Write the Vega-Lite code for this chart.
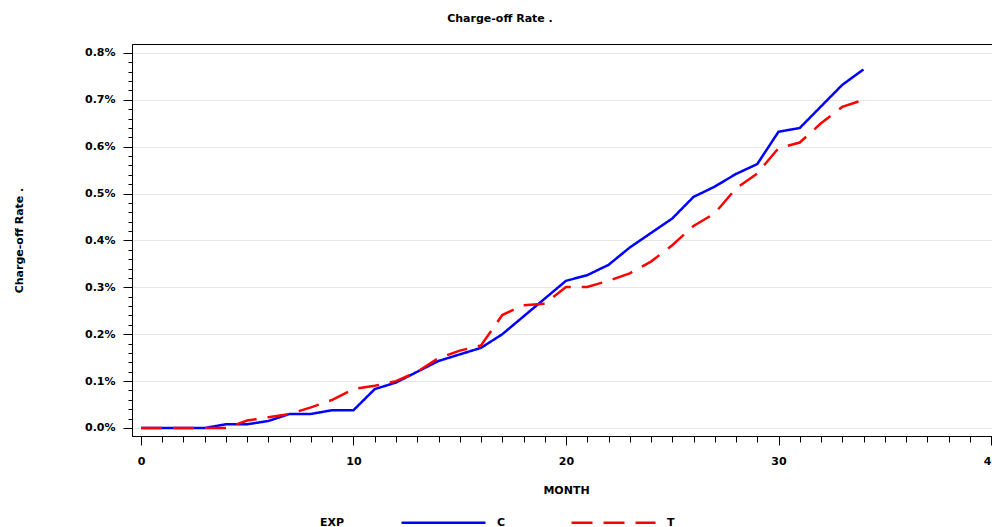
{
  "$schema": "https://vega.github.io/schema/vega-lite/v6.json",
  "width": 860,
  "height": 392,
  "autosize": {"type": "none"},
  "padding": {"left": 132, "top": 44, "right": 0, "bottom": 91},
  "background": "white",
  "config": {
    "view": {"stroke": "black", "strokeWidth": 1},
    "font": "DejaVu Sans",
    "axis": {
      "labelFont": "DejaVu Sans", "labelFontSize": 11, "labelFontWeight": "bold", "labelColor": "black",
      "titleFont": "DejaVu Sans", "titleFontSize": 11, "titleFontWeight": "bold", "titleColor": "black",
      "domainColor": "black", "tickColor": "black", "labelOverlap": false, "labelFlush": false
    }
  },
  "title": {"text": "Charge-off Rate .", "font": "DejaVu Sans", "fontSize": 11, "fontWeight": "bold", "color": "black", "anchor": "middle", "dx": -62, "offset": 20},
  "data": {"values": [
    {"MONTH": 0, "EXP": "C", "RATE": 0}, {"MONTH": 1, "EXP": "C", "RATE": 0}, {"MONTH": 2, "EXP": "C", "RATE": 0}, {"MONTH": 3, "EXP": "C", "RATE": 0},
    {"MONTH": 4, "EXP": "C", "RATE": 0.008}, {"MONTH": 5, "EXP": "C", "RATE": 0.008}, {"MONTH": 6, "EXP": "C", "RATE": 0.015}, {"MONTH": 7, "EXP": "C", "RATE": 0.030},
    {"MONTH": 8, "EXP": "C", "RATE": 0.030}, {"MONTH": 9, "EXP": "C", "RATE": 0.038}, {"MONTH": 10, "EXP": "C", "RATE": 0.038}, {"MONTH": 11, "EXP": "C", "RATE": 0.083},
    {"MONTH": 12, "EXP": "C", "RATE": 0.097}, {"MONTH": 13, "EXP": "C", "RATE": 0.120}, {"MONTH": 14, "EXP": "C", "RATE": 0.143}, {"MONTH": 15, "EXP": "C", "RATE": 0.157},
    {"MONTH": 16, "EXP": "C", "RATE": 0.171}, {"MONTH": 17, "EXP": "C", "RATE": 0.200}, {"MONTH": 18, "EXP": "C", "RATE": 0.238}, {"MONTH": 19, "EXP": "C", "RATE": 0.276},
    {"MONTH": 20, "EXP": "C", "RATE": 0.314}, {"MONTH": 21, "EXP": "C", "RATE": 0.326}, {"MONTH": 22, "EXP": "C", "RATE": 0.348}, {"MONTH": 23, "EXP": "C", "RATE": 0.385},
    {"MONTH": 24, "EXP": "C", "RATE": 0.416}, {"MONTH": 25, "EXP": "C", "RATE": 0.447}, {"MONTH": 26, "EXP": "C", "RATE": 0.493}, {"MONTH": 27, "EXP": "C", "RATE": 0.515},
    {"MONTH": 28, "EXP": "C", "RATE": 0.542}, {"MONTH": 29, "EXP": "C", "RATE": 0.563}, {"MONTH": 30, "EXP": "C", "RATE": 0.632}, {"MONTH": 31, "EXP": "C", "RATE": 0.640},
    {"MONTH": 32, "EXP": "C", "RATE": 0.686}, {"MONTH": 33, "EXP": "C", "RATE": 0.732}, {"MONTH": 34, "EXP": "C", "RATE": 0.765},
    {"MONTH": 0, "EXP": "T", "RATE": 0}, {"MONTH": 1, "EXP": "T", "RATE": 0}, {"MONTH": 2, "EXP": "T", "RATE": 0}, {"MONTH": 3, "EXP": "T", "RATE": 0},
    {"MONTH": 4, "EXP": "T", "RATE": 0}, {"MONTH": 5, "EXP": "T", "RATE": 0.016}, {"MONTH": 6, "EXP": "T", "RATE": 0.023}, {"MONTH": 7, "EXP": "T", "RATE": 0.030},
    {"MONTH": 8, "EXP": "T", "RATE": 0.044}, {"MONTH": 9, "EXP": "T", "RATE": 0.060}, {"MONTH": 10, "EXP": "T", "RATE": 0.083}, {"MONTH": 11, "EXP": "T", "RATE": 0.090},
    {"MONTH": 12, "EXP": "T", "RATE": 0.100}, {"MONTH": 13, "EXP": "T", "RATE": 0.120}, {"MONTH": 14, "EXP": "T", "RATE": 0.149}, {"MONTH": 15, "EXP": "T", "RATE": 0.165},
    {"MONTH": 16, "EXP": "T", "RATE": 0.176}, {"MONTH": 17, "EXP": "T", "RATE": 0.241}, {"MONTH": 18, "EXP": "T", "RATE": 0.262}, {"MONTH": 19, "EXP": "T", "RATE": 0.265},
    {"MONTH": 20, "EXP": "T", "RATE": 0.301}, {"MONTH": 21, "EXP": "T", "RATE": 0.301}, {"MONTH": 22, "EXP": "T", "RATE": 0.314}, {"MONTH": 23, "EXP": "T", "RATE": 0.330},
    {"MONTH": 24, "EXP": "T", "RATE": 0.355}, {"MONTH": 25, "EXP": "T", "RATE": 0.390}, {"MONTH": 26, "EXP": "T", "RATE": 0.431}, {"MONTH": 27, "EXP": "T", "RATE": 0.458},
    {"MONTH": 28, "EXP": "T", "RATE": 0.511}, {"MONTH": 29, "EXP": "T", "RATE": 0.543}, {"MONTH": 30, "EXP": "T", "RATE": 0.597}, {"MONTH": 31, "EXP": "T", "RATE": 0.609},
    {"MONTH": 32, "EXP": "T", "RATE": 0.650}, {"MONTH": 33, "EXP": "T", "RATE": 0.685}, {"MONTH": 34, "EXP": "T", "RATE": 0.700}
  ]},
  "mark": {"type": "line", "strokeWidth": 2.5},
  "encoding": {
    "x": {
      "field": "MONTH", "type": "quantitative",
      "scale": {"domain": [-0.4235, 40.047], "nice": false, "zero": false},
      "axis": {
        "values": [0,1,2,3,4,5,6,7,8,9,10,11,12,13,14,15,16,17,18,19,20,21,22,23,24,25,26,27,28,29,30,31,32,33,34,35,36,37,38,39,40],
        "labelExpr": "datum.value % 10 === 0 ? datum.label : ''",
        "tickSize": {"condition": {"test": "datum.value % 10 === 0", "value": 9}, "value": 6},
        "grid": false, "title": "MONTH", "titleX": 434, "titlePadding": 18, "labelPadding": 10
      }
    },
    "y": {
      "field": "RATE", "type": "quantitative",
      "scale": {"domain": [-0.01707, 0.8192], "nice": false, "zero": false},
      "axis": {
        "values": [0,0.02,0.04,0.06,0.08,0.1,0.12,0.14,0.16,0.18,0.2,0.22,0.24,0.26,0.28,0.3,0.32,0.34,0.36,0.38,0.4,0.42,0.44,0.46,0.48,0.5,0.52,0.54,0.56,0.58,0.6,0.62,0.64,0.66,0.68,0.7,0.72,0.74,0.76,0.78,0.8],
        "labelExpr": "abs(datum.value*10 - round(datum.value*10)) < 0.001 ? format(datum.value, '.1f') + '%' : ''",
        "tickSize": {"condition": {"test": "abs(datum.value*10 - round(datum.value*10)) < 0.001", "value": 9}, "value": 4},
        "grid": true, "gridColor": "#e6e6e6",
        "gridOpacity": {"condition": {"test": "abs(datum.value*10 - round(datum.value*10)) < 0.001", "value": 1}, "value": 0},
        "title": "Charge-off Rate .", "titlePadding": 60, "labelPadding": 8
      }
    },
    "color": {
      "field": "EXP", "type": "nominal",
      "scale": {"domain": ["C", "T"], "range": ["#0000ff", "#ff0000"]},
      "legend": {"orient": "none", "legendX": 188, "legendY": 435, "direction": "horizontal", "titleOrient": "left", "titleAnchor": "middle", "titleBaseline": "middle", "titlePadding": 55,
        "symbolType": "stroke", "symbolSize": 7056, "symbolStrokeWidth": 2.5, "labelOffset": 10, "columnPadding": 60,
        "labelFont": "DejaVu Sans", "labelFontSize": 11, "labelFontWeight": "bold", "labelColor": "black",
        "titleFont": "DejaVu Sans", "titleFontSize": 11, "titleFontWeight": "bold", "titleColor": "black",
        "encode": {"title": {"update": {"dy": {"value": 20}}}}}
    },
    "strokeDash": {
      "field": "EXP", "type": "nominal",
      "scale": {"domain": ["C", "T"], "range": [[1, 0], [21, 11]]},
      "legend": {"orient": "none", "legendX": 188, "legendY": 435, "direction": "horizontal", "titleOrient": "left", "titleAnchor": "middle", "titleBaseline": "middle", "titlePadding": 55,
        "symbolType": "stroke", "symbolSize": 7056, "symbolStrokeWidth": 2.5, "labelOffset": 10, "columnPadding": 60,
        "labelFont": "DejaVu Sans", "labelFontSize": 11, "labelFontWeight": "bold", "labelColor": "black",
        "titleFont": "DejaVu Sans", "titleFontSize": 11, "titleFontWeight": "bold", "titleColor": "black",
        "encode": {"title": {"update": {"dy": {"value": 20}}}}}
    }
  }
}
